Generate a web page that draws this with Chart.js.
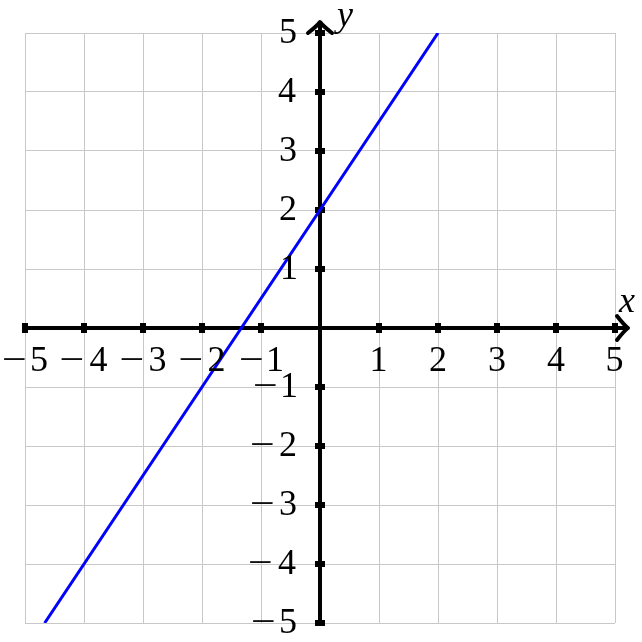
<!DOCTYPE html>
<html>
<head>
<meta charset="utf-8">
<script src="https://cdn.jsdelivr.net/npm/chart.js@4/dist/chart.umd.min.js"></script>
<style>
html,body{margin:0;padding:0;background:#fff;}
#wrap{width:642px;height:642px;}
</style>
</head>
<body>
<div id="wrap"><canvas id="c" width="642" height="642"></canvas></div>
<script>
// Data: the line y = 1.5x + 2, clipped to the window
const lineX = [-4.667, 2];
const lineY = [-5, 5];
const xTicks = [-5, -4, -3, -2, -1, 0, 1, 2, 3, 4, 5];
const yTicks = [-5, -4, -3, -2, -1, 0, 1, 2, 3, 4, 5];
const axisMin = -5, axisMax = 5;
const xLabel = 'x', yLabel = 'y';

const FONT = '"Liberation Serif", "Times New Roman", serif';
const TICK_FONT = '36px ' + FONT;

// draws a tick label; a negative number gets a wide math-style minus
function drawNum(ctx, v, x, y, align) {
  const digits = String(Math.abs(v));
  const dm = ctx.measureText(digits);
  const dInk = dm.actualBoundingBoxRight + dm.actualBoundingBoxLeft;
  const MINUS_W = 22, GAP = 7;
  const total = (v < 0 ? MINUS_W + GAP : 0) + dInk;
  let left = align === 'center' ? x - total / 2 : x - total;
  ctx.textAlign = 'left';
  if (v < 0) {
    const mm = ctx.measureText('\u2212');
    const mInk = mm.actualBoundingBoxRight + mm.actualBoundingBoxLeft;
    const sx = MINUS_W / mInk;
    ctx.save();
    ctx.translate(left, y);
    ctx.scale(sx, 1);
    ctx.fillText('\u2212', mm.actualBoundingBoxLeft, 0);
    ctx.restore();
    left += MINUS_W + GAP;
  }
  ctx.fillText(digits, left + dm.actualBoundingBoxLeft, y);
}

const axesPlugin = {
  id: 'centerAxes',
  beforeDatasetsDraw(chart) {
    const ctx = chart.ctx;
    const xs = chart.scales.x, ys = chart.scales.y;
    const x0 = xs.getPixelForValue(0), y0 = ys.getPixelForValue(0);
    const xL = xs.getPixelForValue(axisMin), xR = xs.getPixelForValue(axisMax);
    const yB = ys.getPixelForValue(axisMin), yT = ys.getPixelForValue(axisMax);
    ctx.save();
    ctx.strokeStyle = '#000';
    ctx.fillStyle = '#000';
    ctx.lineWidth = 4;
    ctx.lineCap = 'butt';
    ctx.beginPath();
    ctx.moveTo(xL, y0);
    ctx.lineTo(xR + 12, y0);
    ctx.stroke();
    ctx.beginPath();
    ctx.moveTo(x0, yB);
    ctx.lineTo(x0, yT - 10);
    ctx.stroke();
    ctx.lineCap = 'round';
    ctx.lineJoin = 'round';
    const tx = xR + 13;
    ctx.beginPath();
    ctx.moveTo(tx - 11, y0 - 12);
    ctx.quadraticCurveTo(tx - 4, y0 - 3, tx, y0);
    ctx.quadraticCurveTo(tx - 4, y0 + 3, tx - 11, y0 + 12);
    ctx.stroke();
    const ty = yT - 11;
    ctx.beginPath();
    ctx.moveTo(x0 - 12, ty + 11);
    ctx.quadraticCurveTo(x0 - 3, ty + 4, x0, ty);
    ctx.quadraticCurveTo(x0 + 3, ty + 4, x0 + 12, ty + 11);
    ctx.stroke();
    xTicks.forEach(v => {
      if (v === 0) return;
      const p = xs.getPixelForValue(v);
      ctx.fillRect(p - 3, y0 - 5, 6, 10);
    });
    yTicks.forEach(v => {
      if (v === 0) return;
      const p = ys.getPixelForValue(v);
      ctx.fillRect(x0 - 5, p - 3, 10, 6);
    });
    ctx.restore();
  },
  afterDraw(chart) {
    const ctx = chart.ctx;
    const xs = chart.scales.x, ys = chart.scales.y;
    const x0 = xs.getPixelForValue(0), y0 = ys.getPixelForValue(0);
    ctx.save();
    ctx.fillStyle = '#000';
    ctx.font = TICK_FONT;
    ctx.textBaseline = 'middle';
    xTicks.forEach(v => {
      if (v === 0) return;
      drawNum(ctx, v, xs.getPixelForValue(v), y0 + 34, 'center');
    });
    yTicks.forEach(v => {
      if (v === 0) return;
      drawNum(ctx, v, x0 - 24, ys.getPixelForValue(v) + 1, 'right');
    });
    ctx.font = 'italic 36px ' + FONT;
    ctx.textAlign = 'center';
    ctx.textBaseline = 'alphabetic';
    ctx.fillText(xLabel, xs.getPixelForValue(axisMax) + 12, y0 - 16);
    ctx.textAlign = 'left';
    ctx.fillText(yLabel, x0 + 17, ys.getPixelForValue(axisMax) - 7);
    ctx.restore();
  }
};

new Chart(document.getElementById('c'), {
  type: 'scatter',
  data: {
    datasets: [{
      data: lineX.map((x, i) => ({ x: x, y: lineY[i] })),
      showLine: true,
      borderColor: '#0000ff',
      borderWidth: 3,
      pointRadius: 0,
      fill: false,
      tension: 0
    }]
  },
  options: {
    responsive: false,
    animation: false,
    layout: { padding: { left: 25, right: 27, top: 33, bottom: 19 } },
    plugins: { legend: { display: false }, tooltip: { enabled: false } },
    scales: {
      x: {
        type: 'linear',
        min: axisMin, max: axisMax,
        position: { y: 0 },
        afterBuildTicks: s => { s.ticks = xTicks.map(v => ({ value: v })); },
        grid: { color: '#c8c8c8', lineWidth: 1, drawTicks: false },
        border: { display: false },
        ticks: { display: false }
      },
      y: {
        type: 'linear',
        min: axisMin, max: axisMax,
        position: { x: 0 },
        afterBuildTicks: s => { s.ticks = yTicks.map(v => ({ value: v })); },
        grid: { color: '#c8c8c8', lineWidth: 1, drawTicks: false },
        border: { display: false },
        ticks: { display: false }
      }
    }
  },
  plugins: [axesPlugin]
});
</script>
</body>
</html>
